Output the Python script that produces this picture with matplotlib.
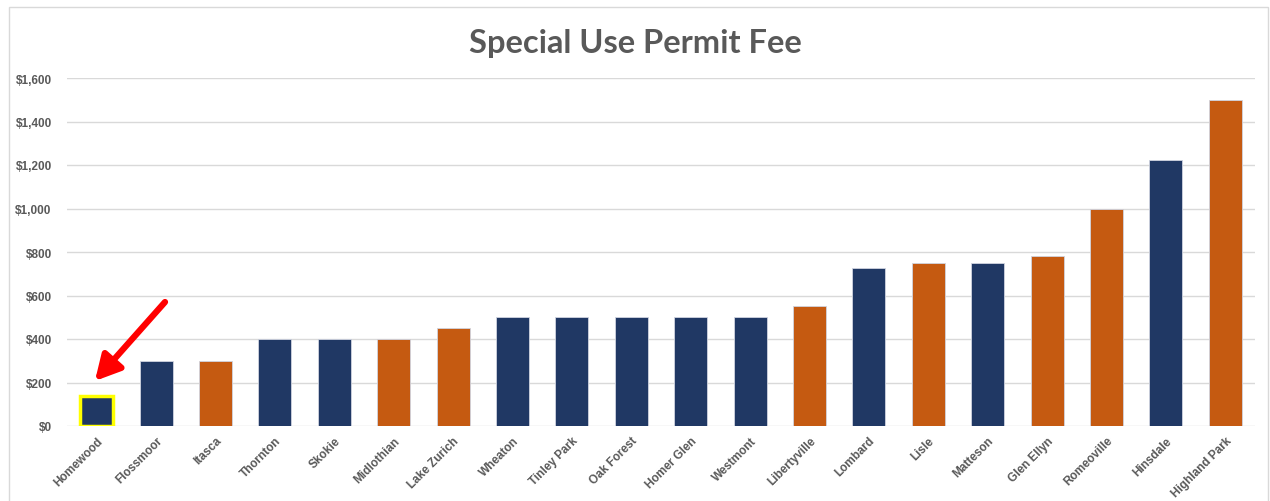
import matplotlib
matplotlib.use('Agg')

import matplotlib.pyplot as plt
from matplotlib.patches import Rectangle
from matplotlib.ticker import FuncFormatter

towns = ['Homewood', 'Flossmoor', 'Itasca', 'Thornton', 'Skokie', 'Midlothian',
         'Lake Zurich', 'Wheaton', 'Tinley Park', 'Oak Forest', 'Homer Glen',
         'Westmont', 'Libertyville', 'Lombard', 'Lisle', 'Matteson', 'Glen Ellyn',
         'Romeoville', 'Hinsdale', 'Highland Park']
fees = [140, 300, 300, 400, 400, 400, 450, 500, 500, 500, 500, 500, 550, 725,
        750, 750, 780, 1000, 1225, 1500]
# 'n' = navy, 'o' = orange
groups = ['n', 'n', 'o', 'n', 'n', 'o', 'o', 'n', 'n', 'n', 'n', 'n', 'o', 'n',
          'o', 'n', 'o', 'o', 'n', 'o']
yticks = [0, 200, 400, 600, 800, 1000, 1200, 1400, 1600]

navy = '#203864'
orange = '#C55A11'
grey = '#595959'

plt.rcParams['font.family'] = ['Liberation Sans', 'DejaVu Sans']

fig = plt.figure(figsize=(12.7, 5.02), dpi=100)
ax = fig.add_axes([67 / 1270, 1 - 427 / 502, (1255 - 67) / 1270, (427 - 79) / 502])

colors = [navy if g == 'n' else orange for g in groups]
x = list(range(len(towns)))
bars = ax.bar(x, fees, width=0.555, color=colors, edgecolor='#d0d4e0', linewidth=0.6, zorder=3)

# highlight first bar
bars[0].set_edgecolor('#FFFF00')
bars[0].set_linewidth(2.5)

ax.set_ylim(0, 1600)
ax.set_xlim(-0.5, len(towns) - 0.5)
ax.set_yticks(yticks)
ax.yaxis.set_major_formatter(FuncFormatter(lambda v, p: '${:,.0f}'.format(v)))
ax.grid(axis='y', color='#d9d9d9', linewidth=1, zorder=0)
ax.set_xticks(x)
ax.set_xticklabels(towns, rotation=45, ha='right', rotation_mode='anchor',
                   fontsize=8.5, color=grey, fontweight='bold')
for lbl in ax.get_yticklabels():
    lbl.set_fontsize(8.5)
    lbl.set_color(grey)
    lbl.set_fontweight('bold')
ax.tick_params(axis='y', length=0, pad=11)
ax.tick_params(axis='x', length=0, pad=6)
for s in ax.spines.values():
    s.set_visible(False)

fig.text(0.5, 1 - 44 / 502, 'Special Use Permit Fee', ha='center', va='center',
         fontsize=23.5, fontweight='bold', color=grey, family=['Lato', 'DejaVu Sans'])

# red arrow pointing at Homewood
ax.annotate('', xy=(-0.03, 207), xytext=(1.15, 570),
            arrowprops=dict(arrowstyle='-|>,head_length=1.5,head_width=0.8',
                            color='#FF0000', lw=4.5, shrinkA=0, shrinkB=0), zorder=5)

# outer chart border
fig.patches.append(Rectangle((9 / 1270, -0.1), (1268 - 9) / 1270, 1.1 - 8 / 502,
                             transform=fig.transFigure, fill=False,
                             edgecolor='#d9d9d9', linewidth=1))

fig.savefig('out.png', dpi=100)
